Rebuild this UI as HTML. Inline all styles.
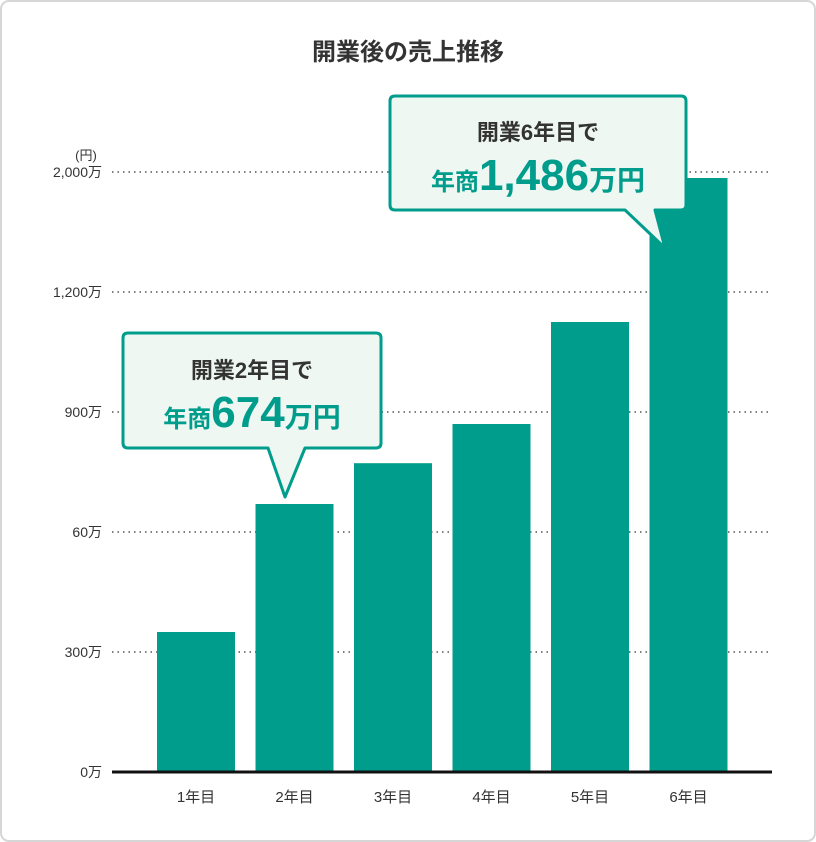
<!DOCTYPE html>
<html><head><meta charset="utf-8">
<style>
body{margin:0;background:#fff;}
svg{display:block;font-family:"Liberation Sans","Noto Sans CJK JP",sans-serif;}
</style></head>
<body>
<svg id="chart" width="816" height="842" viewBox="0 0 816 842">
<rect x="1" y="1" width="814" height="840" rx="8" fill="#fff" stroke="#d6d6d6" stroke-width="2"/>
<text x="408" y="60" text-anchor="middle" font-size="24" font-weight="bold" fill="#333">開業後の売上推移</text>
<text x="86" y="160" text-anchor="middle" font-size="13" fill="#333">(円)</text>
<g id="grid"></g>
<g id="bars"></g>
<line x1="112" y1="772" x2="772" y2="772" stroke="#111" stroke-width="3"/>
<g>
<path d="M128 333 H376 Q381 333 381 338 V443 Q381 448 376 448 H305 L285 497 L268 448 H128 Q123 448 123 443 V338 Q123 333 128 333 Z" fill="#eef7f1" stroke="#009c8c" stroke-width="3" stroke-linejoin="round"/>
<text x="252" y="378" text-anchor="middle" font-size="22" font-weight="bold" fill="#333">開業2年目で</text>
<text x="252" y="427" text-anchor="middle" fill="#009c8c" font-weight="bold"><tspan font-size="24">年商</tspan><tspan font-size="44">674</tspan><tspan font-size="28">万円</tspan></text>
</g>
<g>
<path d="M395 96 H681 Q686 96 686 101 V205 Q686 210 681 210 H655 L665 248 L625 210 H395 Q390 210 390 205 V101 Q390 96 395 96 Z" fill="#eef7f1" stroke="#009c8c" stroke-width="3" stroke-linejoin="round"/>
<text x="538" y="140" text-anchor="middle" font-size="22" font-weight="bold" fill="#333">開業6年目で</text>
<text x="538" y="190" text-anchor="middle" fill="#009c8c" font-weight="bold"><tspan font-size="24">年商</tspan><tspan font-size="44">1,486</tspan><tspan font-size="28">万円</tspan></text>
</g>
</svg>
<script>
const categories = ["1年目","2年目","3年目","4年目","5年目","6年目"];
const values = [350, 670, 772, 870, 1125, 1485];
const tickValues = [0, 300, 600, 900, 1200, 1500];
const tickLabels = ["0万","300万","60万","900万","1,200万","2,000万"];
const NS = "http://www.w3.org/2000/svg";
const y0 = 772, pxPer = 120/300;
function yScale(v){ return y0 - v*pxPer; }
function xScale(i){ return 157 + i*98.5; }
const bw = 78;
const grid = document.getElementById('grid');
tickValues.forEach((t,i)=>{
  const y = yScale(t);
  if (t>0){
    const l = document.createElementNS(NS,'line');
    
    
    l.setAttribute('x1',112); l.setAttribute('x2',772);
    l.setAttribute('y1',y); l.setAttribute('y2',y);
    l.setAttribute('stroke','#555'); l.setAttribute('stroke-width','1.5');
    l.setAttribute('stroke-dasharray','1.5 4');
    grid.appendChild(l);
  }
  const tx = document.createElementNS(NS,'text');
  
  
  tx.setAttribute('x',102); tx.setAttribute('y',y+5);
  tx.setAttribute('text-anchor','end'); tx.setAttribute('font-size','14'); tx.setAttribute('fill','#333');
  tx.textContent = tickLabels[i];
  grid.appendChild(tx);
});
const bars = document.getElementById('bars');
categories.forEach((c,i)=>{
  const r = document.createElementNS(NS,'rect');
  
  
  const y = yScale(values[i]);
  r.setAttribute('x',xScale(i)); r.setAttribute('y',y);
  r.setAttribute('width',bw); r.setAttribute('height',y0-y);
  r.setAttribute('fill','#009c8c');
  bars.appendChild(r);
  const t = document.createElementNS(NS,'text');
  
  
  t.setAttribute('x',xScale(i)+bw/2); t.setAttribute('y',802);
  t.setAttribute('text-anchor','middle'); t.setAttribute('font-size','15'); t.setAttribute('fill','#333');
  t.textContent = c;
  bars.appendChild(t);
});
</script>
</body></html>
